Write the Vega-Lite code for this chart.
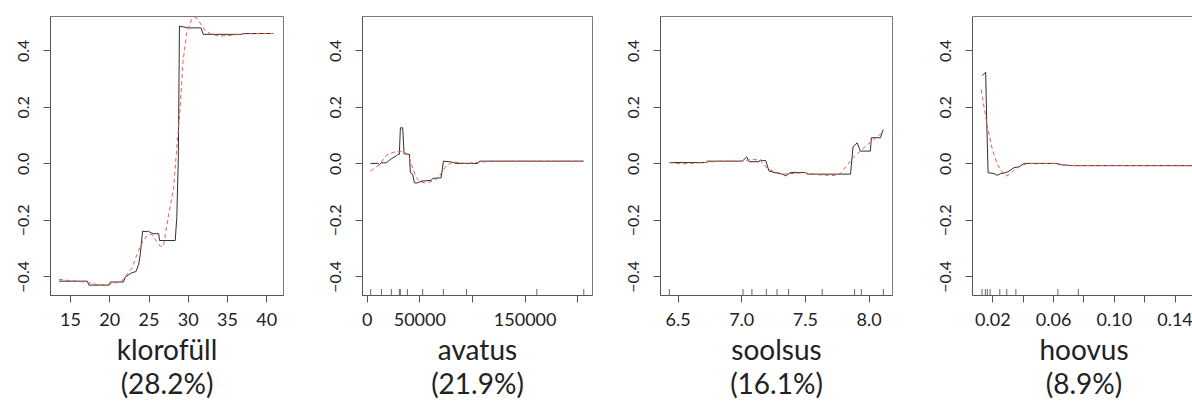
{
"$schema": "https://vega.github.io/schema/vega-lite/v6.json",
"background": "white",
"padding": {"left": 14, "top": 15, "right": 1, "bottom": 0},
"datasets": {
"klorofyll_fit": [{"x":13.6,"y":-0.417},{"x":17.2,"y":-0.417},{"x":17.4,"y":-0.431},{"x":20.0,"y":-0.431},{"x":20.15,"y":-0.42},{"x":21.8,"y":-0.42},{"x":22.05,"y":-0.402},{"x":22.9,"y":-0.387},{"x":23.4,"y":-0.383},{"x":23.74,"y":-0.358},{"x":23.95,"y":-0.322},{"x":24.25,"y":-0.24},{"x":24.8,"y":-0.242},{"x":25.0,"y":-0.24},{"x":25.2,"y":-0.244},{"x":25.6,"y":-0.249},{"x":26.3,"y":-0.249},{"x":26.4,"y":-0.273},{"x":28.4,"y":-0.273},{"x":28.6,"y":-0.192},{"x":28.8,"y":0.02},{"x":28.94,"y":0.486},{"x":29.5,"y":0.483},{"x":30.0,"y":0.48},{"x":31.68,"y":0.48},{"x":31.98,"y":0.457},{"x":36.83,"y":0.457},{"x":37.04,"y":0.46},{"x":40.9,"y":0.46}],
"klorofyll_smooth": [{"x":13.6,"y":-0.411},{"x":15.5,"y":-0.416},{"x":17.4,"y":-0.422},{"x":18.7,"y":-0.431},{"x":20.4,"y":-0.426},{"x":21.6,"y":-0.417},{"x":22.9,"y":-0.37},{"x":23.7,"y":-0.31},{"x":24.3,"y":-0.275},{"x":24.8,"y":-0.257},{"x":25.4,"y":-0.251},{"x":26.0,"y":-0.275},{"x":26.5,"y":-0.293},{"x":26.9,"y":-0.293},{"x":27.5,"y":-0.192},{"x":28.2,"y":-0.086},{"x":28.6,"y":0.055},{"x":29.0,"y":0.185},{"x":29.4,"y":0.362},{"x":29.9,"y":0.468},{"x":30.5,"y":0.51},{"x":31.0,"y":0.518},{"x":31.55,"y":0.498},{"x":32.2,"y":0.471},{"x":33.0,"y":0.457},{"x":34.1,"y":0.451},{"x":35.6,"y":0.454},{"x":37.3,"y":0.459},{"x":40.9,"y":0.46}],
"avatus_fit": [{"x":3600,"y":0},{"x":10500,"y":0},{"x":12100,"y":-0.004},{"x":13700,"y":0.002},{"x":18400,"y":0.002},{"x":23200,"y":0.016},{"x":27900,"y":0.026},{"x":29500,"y":0.032},{"x":31000,"y":0.032},{"x":32000,"y":0.126},{"x":34200,"y":0.126},{"x":35500,"y":0.034},{"x":40600,"y":0.032},{"x":41500,"y":-0.033},{"x":43700,"y":-0.039},{"x":45300,"y":-0.069},{"x":48500,"y":-0.069},{"x":51700,"y":-0.063},{"x":61200,"y":-0.06},{"x":62800,"y":-0.053},{"x":70700,"y":-0.051},{"x":72900,"y":0.008},{"x":80200,"y":0.005},{"x":85000,"y":0},{"x":105500,"y":0},{"x":107100,"y":0.008},{"x":205900,"y":0.008}],
"avatus_smooth": [{"x":3600,"y":-0.027},{"x":8000,"y":-0.015},{"x":12100,"y":-0.005},{"x":16000,"y":0.015},{"x":20000,"y":0.032},{"x":26000,"y":0.04},{"x":32000,"y":0.043},{"x":36000,"y":0.038},{"x":39000,"y":0.032},{"x":41500,"y":0.01},{"x":43700,"y":-0.016},{"x":46000,"y":-0.04},{"x":48500,"y":-0.057},{"x":51500,"y":-0.066},{"x":54900,"y":-0.069},{"x":58500,"y":-0.067},{"x":62800,"y":-0.063},{"x":66000,"y":-0.056},{"x":69100,"y":-0.045},{"x":72500,"y":-0.025},{"x":75500,"y":-0.009},{"x":81800,"y":0.005},{"x":94400,"y":0},{"x":107100,"y":0.004},{"x":120000,"y":0.008},{"x":205900,"y":0.008}],
"avatus_rug": [{"x":3800},{"x":13950},{"x":23440},{"x":31030},{"x":31980},{"x":38630},{"x":53140},{"x":72780},{"x":94900},{"x":161600},{"x":206200}],
"soolsus_fit": [{"x":6.435,"y":0.003},{"x":6.722,"y":0.003},{"x":6.735,"y":0.008},{"x":7.009,"y":0.008},{"x":7.043,"y":0.023},{"x":7.061,"y":0.006},{"x":7.14,"y":0.006},{"x":7.148,"y":0.012},{"x":7.165,"y":0.01},{"x":7.192,"y":0.01},{"x":7.218,"y":-0.027},{"x":7.257,"y":-0.032},{"x":7.322,"y":-0.038},{"x":7.349,"y":-0.044},{"x":7.388,"y":-0.032},{"x":7.505,"y":-0.032},{"x":7.518,"y":-0.038},{"x":7.858,"y":-0.038},{"x":7.878,"y":0.059},{"x":7.91,"y":0.073},{"x":7.936,"y":0.0435},{"x":8.014,"y":0.0435},{"x":8.022,"y":0.091},{"x":8.093,"y":0.091},{"x":8.115,"y":0.12}],
"soolsus_smooth": [{"x":6.435,"y":0.003},{"x":6.527,"y":-0.002},{"x":6.71,"y":0.003},{"x":6.84,"y":0.008},{"x":7.0,"y":0.008},{"x":7.075,"y":0.014},{"x":7.15,"y":0.012},{"x":7.205,"y":-0.018},{"x":7.257,"y":-0.029},{"x":7.336,"y":-0.038},{"x":7.492,"y":-0.033},{"x":7.623,"y":-0.041},{"x":7.727,"y":-0.043},{"x":7.779,"y":-0.036},{"x":7.884,"y":0.023},{"x":7.988,"y":0.065},{"x":8.115,"y":0.112}],
"soolsus_rug": [{"x":6.435},{"x":7.014},{"x":7.084},{"x":7.197},{"x":7.281},{"x":7.372},{"x":7.636},{"x":7.89},{"x":7.943},{"x":8.116}],
"hoovus_fit": [{"x":0.0134,"y":0.311},{"x":0.0156,"y":0.323},{"x":0.0163,"y":0.144},{"x":0.0172,"y":-0.033},{"x":0.0211,"y":-0.036},{"x":0.0233,"y":-0.042},{"x":0.0255,"y":-0.036},{"x":0.0288,"y":-0.033},{"x":0.031,"y":-0.027},{"x":0.0343,"y":-0.015},{"x":0.0376,"y":-0.012},{"x":0.041,"y":0},{"x":0.0618,"y":0},{"x":0.0651,"y":-0.005},{"x":0.0706,"y":-0.007},{"x":0.0715,"y":-0.008},{"x":0.1535,"y":-0.008}],
"hoovus_smooth": [{"x":0.0127,"y":0.261},{"x":0.0145,"y":0.2},{"x":0.0167,"y":0.132},{"x":0.02,"y":0.049},{"x":0.0233,"y":-0.004},{"x":0.0266,"y":-0.031},{"x":0.0288,"y":-0.045},{"x":0.031,"y":-0.04},{"x":0.0343,"y":-0.024},{"x":0.0387,"y":-0.009},{"x":0.0431,"y":0},{"x":0.062,"y":0},{"x":0.0695,"y":-0.007},{"x":0.1535,"y":-0.008}],
"hoovus_rug": [{"x":0.0132},{"x":0.0154},{"x":0.0167},{"x":0.0185},{"x":0.0249},{"x":0.0295},{"x":0.0355},{"x":0.0632},{"x":0.0766},{"x":0.1533}]
},
"bounds": "full",
"spacing": 31,
"hconcat": [
{"bounds": "flush", "spacing": 79, "hconcat": [
{"width": 233, "height": 279, "layer": [
 {"data": {"name": "klorofyll_fit"}, "mark": {"type": "line", "color": "#303030", "strokeWidth": 1, "clip": true},
  "encoding": {"x": {"field": "x", "type": "quantitative", "scale": {"domain": [12.45, 42.13], "nice": false, "zero": false}, "axis": {"values": [15,20,25,30,35,40], "title": ["klorofüll", "(28.2%)"]}},
   "y": {"field": "y", "type": "quantitative", "scale": {"domain": [-0.466, 0.522], "nice": false, "zero": false}, "axis": {"values": [-0.4,-0.2,0,0.2,0.4], "format": ".1f", "title": null}}}},
 {"data": {"name": "klorofyll_smooth"}, "mark": {"type": "line", "color": "#ee5c48", "strokeWidth": 1, "strokeDash": [4,3], "clip": true},
  "encoding": {"x": {"field": "x", "type": "quantitative"}, "y": {"field": "y", "type": "quantitative"}}}
]},
{"width": 230, "height": 279, "layer": [
 {"data": {"name": "avatus_fit"}, "mark": {"type": "line", "color": "#303030", "strokeWidth": 1, "clip": true},
  "encoding": {"x": {"field": "x", "type": "quantitative", "scale": {"domain": [-4460, 214000], "nice": false, "zero": false}, "axis": {"values": [0,50000,100000,150000,200000], "format": "d", "labelExpr": "datum.value == 100000 || datum.value == 200000 ? '' : datum.label", "title": ["avatus", "(21.9%)"]}},
   "y": {"field": "y", "type": "quantitative", "scale": {"domain": [-0.466, 0.522], "nice": false, "zero": false}, "axis": {"values": [-0.4,-0.2,0,0.2,0.4], "format": ".1f", "title": null}}}},
 {"data": {"name": "avatus_smooth"}, "mark": {"type": "line", "color": "#ee5c48", "strokeWidth": 1, "strokeDash": [4,3], "clip": true},
  "encoding": {"x": {"field": "x", "type": "quantitative"}, "y": {"field": "y", "type": "quantitative"}}},
 {"data": {"name": "avatus_rug"}, "mark": {"type": "rule", "color": "#666", "strokeWidth": 1},
  "encoding": {"x": {"field": "x", "type": "quantitative"}, "y": {"datum": -0.466}, "y2": {"datum": -0.445}}}
]}
]},
{"bounds": "flush", "spacing": 80, "hconcat": [
{"width": 232, "height": 279, "layer": [
 {"data": {"name": "soolsus_fit"}, "mark": {"type": "line", "color": "#303030", "strokeWidth": 1, "clip": true},
  "encoding": {"x": {"field": "x", "type": "quantitative", "scale": {"domain": [6.362, 8.184], "nice": false, "zero": false}, "axis": {"values": [6.5,7.0,7.5,8.0], "format": ".1f", "title": ["soolsus", "(16.1%)"]}},
   "y": {"field": "y", "type": "quantitative", "scale": {"domain": [-0.466, 0.522], "nice": false, "zero": false}, "axis": {"values": [-0.4,-0.2,0,0.2,0.4], "format": ".1f", "title": null}}}},
 {"data": {"name": "soolsus_smooth"}, "mark": {"type": "line", "color": "#ee5c48", "strokeWidth": 1, "strokeDash": [4,3], "clip": true},
  "encoding": {"x": {"field": "x", "type": "quantitative"}, "y": {"field": "y", "type": "quantitative"}}},
 {"data": {"name": "soolsus_rug"}, "mark": {"type": "rule", "color": "#666", "strokeWidth": 1},
  "encoding": {"x": {"field": "x", "type": "quantitative"}, "y": {"datum": -0.466}, "y2": {"datum": -0.445}}}
]},
{"width": 223, "height": 279, "view": {"stroke": null}, "resolve": {"axis": {"x": "independent"}}, "layer": [
 {"data": {"name": "hoovus_fit"}, "mark": {"type": "line", "color": "#303030", "strokeWidth": 1, "clip": true},
  "encoding": {"x": {"field": "x", "type": "quantitative", "scale": {"domain": [0.00659, 0.1535], "nice": false, "zero": false}, "axis": {"values": [0.02,0.04,0.06,0.08,0.10,0.12,0.14], "format": ".2f", "labelExpr": "round(datum.value * 100) % 4 == 2 ? datum.label : ''", "title": ["hoovus", "(8.9%)"]}},
   "y": {"field": "y", "type": "quantitative", "scale": {"domain": [-0.466, 0.522], "nice": false, "zero": false}, "axis": {"values": [-0.4,-0.2,0,0.2,0.4], "format": ".1f", "title": null}}}},
 {"data": {"name": "hoovus_smooth"}, "mark": {"type": "line", "color": "#ee5c48", "strokeWidth": 1, "strokeDash": [4,3], "clip": true},
  "encoding": {"x": {"field": "x", "type": "quantitative", "axis": null}, "y": {"field": "y", "type": "quantitative"}}},
 {"data": {"name": "hoovus_rug"}, "mark": {"type": "rule", "color": "#666", "strokeWidth": 1},
  "encoding": {"x": {"field": "x", "type": "quantitative", "axis": {"orient": "top", "labels": false, "ticks": false, "title": null, "domainColor": "#7a7a7a"}}, "y": {"datum": -0.466}, "y2": {"datum": -0.445}}}
]}
]}
],
"config": {
 "font": "Lato",
 "view": {"stroke": "#7a7a7a", "strokeWidth": 1},
 "axis": {"grid": false, "domainColor": "#555", "tickColor": "#555", "tickSize": 7, "labelColor": "#222", "labelFont": "Lato", "titleFont": "Lato", "titleFontWeight": "normal", "titleColor": "#222"},
 "axisX": {"labelFontSize": 18, "labelPadding": 9, "titleFontSize": 28, "titleLineHeight": 34, "titlePadding": 8},
 "axisY": {"labelFontSize": 16, "labelPadding": 12, "labelAngle": -90}
}
}
